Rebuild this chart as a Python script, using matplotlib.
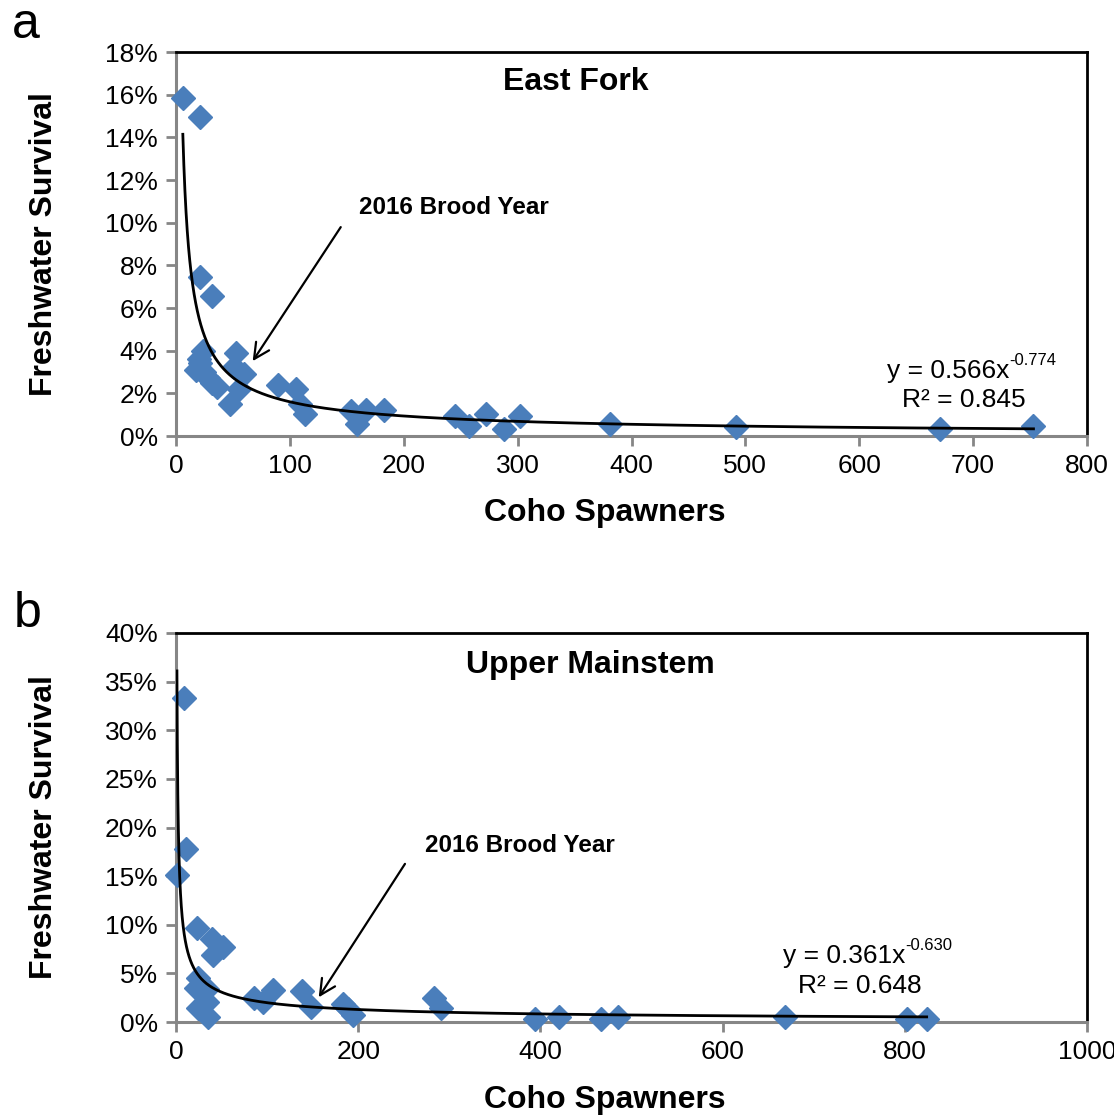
import matplotlib
matplotlib.use('Agg')
import matplotlib.pyplot as plt
from matplotlib.ticker import FuncFormatter, MultipleLocator
import numpy as np

plt.rcParams['font.family'] = ['Liberation Sans', 'DejaVu Sans']

# panel a - East Fork
spawners_a = [6, 21, 21, 32, 24, 20, 18, 21, 25, 28, 32, 36, 47, 53, 51, 60, 55,
              90, 105, 109, 113, 154, 159, 167, 183, 245, 257, 272, 288, 302,
              381, 492, 671, 753]
survival_a = [15.85, 14.97, 7.45, 6.58, 4.0, 3.6, 3.1, 3.4, 3.0, 2.7, 2.5, 2.3, 1.5,
              3.9, 3.25, 2.9, 2.2, 2.4, 2.2, 1.5, 1.05, 1.15, 0.55, 1.2, 1.2,
              0.95, 0.45, 1.05, 0.35, 0.95, 0.58, 0.4, 0.35, 0.45]
fit_a = (0.566, -0.774)
r2_a = 0.845

# panel b - Upper Mainstem
spawners_b = [9, 11, 1, 23, 39, 52, 41, 24.5, 22, 34, 34, 24.5, 35.5, 86, 96, 107,
              138, 148, 183, 189, 194, 283, 291, 394, 420, 467, 485, 669, 802, 824]
survival_b = [33.35, 17.75, 15.07, 9.7, 8.5, 7.7, 6.9, 4.55, 3.45, 3.35, 2.1, 1.44,
              0.47, 2.5, 2.1, 3.3, 3.15, 1.54, 1.9, 1.34, 0.75, 2.5, 1.44, 0.35,
              0.55, 0.35, 0.55, 0.55, 0.35, 0.35]
fit_b = (0.361, -0.630)
r2_b = 0.648

blue = '#4A7EBB'
grey = '#868686'

fig = plt.figure(figsize=(11.14, 11.16), dpi=100)
ax_a = fig.add_axes([176/1114, 1-436/1116, 911/1114, 384/1116])
ax_b = fig.add_axes([176/1114, 1-1022/1116, 911/1114, 389/1116])


def style(ax, xmax, xstep, ymax, ystep):
    ax.set_xlim(0, xmax)
    ax.set_ylim(0, ymax)
    ax.xaxis.set_major_locator(MultipleLocator(xstep))
    ax.yaxis.set_major_locator(MultipleLocator(ystep))
    ax.yaxis.set_major_formatter(FuncFormatter(lambda v, p: '%d%%' % round(v)))
    for s in ['left', 'bottom']:
        ax.spines[s].set_color(grey)
        ax.spines[s].set_linewidth(2.2)
    for s in ['top', 'right']:
        ax.spines[s].set_color('black')
        ax.spines[s].set_linewidth(2)
    ax.tick_params(direction='out', length=7, width=2, color=grey,
                   labelsize=19, pad=6)
    ax.set_xlabel('Coho Spawners', fontsize=23, fontweight='bold', va='center')
    ax.set_ylabel('Freshwater Survival', fontsize=23, fontweight='bold', va='center')
    ax.xaxis.set_label_coords(0.471, -0.2)
    ax.yaxis.set_label_coords(-0.145, 0.5)


def panel(ax, xs, ys, fit, r2):
    ax.plot(xs, ys, linestyle='none', marker='D', markersize=12,
            color=blue, clip_on=False, zorder=3)
    xx = np.geomspace(min(xs), max(xs), 600)
    yy = fit[0] * xx ** fit[1] * 100
    ax.plot(xx, yy, color='black', lw=2, zorder=4)


def equation(ax, x, y1, y2, fit, r2):
    # main part, then a small superscript right after it
    t = ax.text(x - 14 * (ax.get_xlim()[1] / 800), y1, 'y = %.3fx' % fit[0],
                ha='center', va='center', fontsize=19)
    ax.annotate('%.3f' % fit[1], xy=(1.0, 0.62), xycoords=t, ha='left',
                va='bottom', fontsize=12)
    ax.text(x, y2, 'R² = %.3f' % r2, ha='center', va='center', fontsize=19)


style(ax_a, 800, 100, 18, 2)
panel(ax_a, spawners_a, survival_a, fit_a, r2_a)
ax_a.text(351, 16.6, 'East Fork', ha='center', va='center', fontsize=23, fontweight='bold')
ax_a.text(244, 10.7, '2016 Brood Year', ha='center', va='center', fontsize=17.5, fontweight='bold')
ax_a.annotate('', xy=(66, 3.4), xytext=(146, 9.9),
              arrowprops=dict(arrowstyle='->', color='black', lw=1.6, mutation_scale=28))
equation(ax_a, 692, 3.07, 1.67, fit_a, r2_a)

style(ax_b, 1000, 200, 40, 5)
panel(ax_b, spawners_b, survival_b, fit_b, r2_b)
ax_b.text(455, 36.7, 'Upper Mainstem', ha='center', va='center', fontsize=23, fontweight='bold')
ax_b.text(378, 18.1, '2016 Brood Year', ha='center', va='center', fontsize=17.5, fontweight='bold')
ax_b.annotate('', xy=(155, 2.3), xytext=(253, 16.5),
              arrowprops=dict(arrowstyle='->', color='black', lw=1.6, mutation_scale=28))
equation(ax_b, 751, 6.8, 3.73, fit_b, r2_b)

fig.text(12/1114, 1-38/1116, 'a', fontsize=36, ha='left', va='baseline')
fig.text(14/1114, 1-627/1116, 'b', fontsize=36, ha='left', va='baseline')

fig.savefig('out.png', dpi=100)
